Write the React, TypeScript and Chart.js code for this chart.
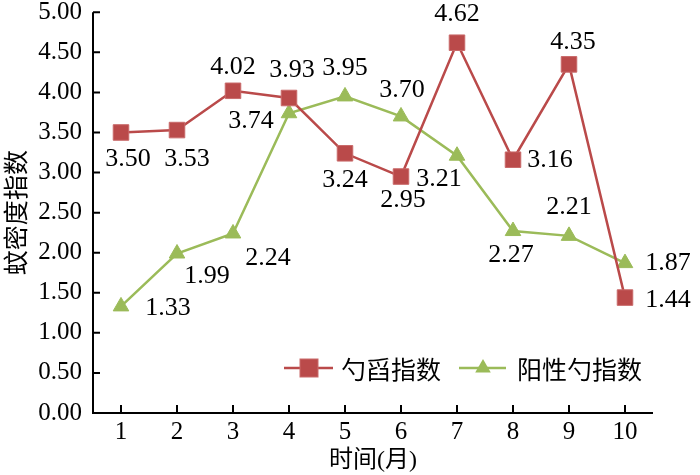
import React, { useEffect, useRef } from "react";
import { Chart, registerables } from "chart.js";

Chart.register(...registerables);

// ---- data ----
const months = ["1", "2", "3", "4", "5", "6", "7", "8", "9", "10"];
const dipIndex = [3.5, 3.53, 4.02, 3.93, 3.24, 2.95, 4.62, 3.16, 4.35, 1.44];
const positiveDipperIndex = [1.33, 1.99, 2.24, 3.74, 3.95, 3.7, 3.21, 2.27, 2.21, 1.87];
const seriesNames = ["勺舀指数", "阳性勺指数"];
const yAxisTitle = "蚊密度指数";
const xAxisTitle = "时间(月)";

// ---- label placement (style only: pixel offsets from each point) ----
const dipLabelOffsets = [[7, 27], [10, 29], [0, -24], [3, -28], [0, 27], [2, 24], [0, -29], [37, 0], [4, -22], [43, 3]];
const posLabelOffsets = [[47, 2], [30, 23], [35, 25], [-38, 8], [0, -28], [1, -26], [-18, 23], [-2, 24], [0, -29], [43, 0]];

const RED = "#BA4A4A";
const RED_EDGE = "#C96A6A";
const GREEN = "#9BBB59";
const SERIF = "'Liberation Serif', 'Times New Roman', serif";
const CJK = "'Noto Sans CJK SC', sans-serif";

const overlayPlugin = {
  id: "overlay",
  afterDraw(chart: any) {
    const ctx = chart.ctx;
    const area = chart.chartArea;
    const xs = chart.scales.x;
    const ys = chart.scales.y;
    ctx.save();
    // axes
    ctx.strokeStyle = "#000";
    ctx.lineWidth = 2;
    ctx.beginPath();
    ctx.moveTo(area.left, area.top);
    ctx.lineTo(area.left, area.bottom);
    ctx.lineTo(area.right, area.bottom);
    ctx.stroke();
    // inward ticks
    ctx.lineWidth = 2;
    ctx.beginPath();
    ys.ticks.forEach((t: any) => {
      const py = ys.getPixelForValue(t.value);
      ctx.moveTo(area.left, py);
      ctx.lineTo(area.left + 7, py);
    });
    months.forEach((_, i) => {
      const px = xs.getPixelForValue(i);
      ctx.moveTo(px, area.bottom);
      ctx.lineTo(px, area.bottom - 8);
    });
    ctx.stroke();

    // data labels
    ctx.fillStyle = "#000";
    ctx.font = "26px " + SERIF;
    ctx.textAlign = "center";
    ctx.textBaseline = "middle";
    const sets = [
      { values: dipIndex, offs: dipLabelOffsets },
      { values: positiveDipperIndex, offs: posLabelOffsets },
    ];
    sets.forEach((s) => {
      s.values.forEach((v, i) => {
        const px = xs.getPixelForValue(i);
        const py = ys.getPixelForValue(v);
        ctx.fillText(v.toFixed(2), px + s.offs[i][0], py + s.offs[i][1]);
      });
    });

    // legend
    const ly = area.bottom - 45;
    const l1 = area.left + 191;
    ctx.lineWidth = 2.5;
    ctx.strokeStyle = RED;
    ctx.beginPath();
    ctx.moveTo(l1, ly);
    ctx.lineTo(l1 + 49, ly);
    ctx.stroke();
    ctx.fillStyle = RED;
    ctx.fillRect(l1 + 25 - 9, ly - 9, 18, 18);
    ctx.strokeStyle = RED_EDGE;
    ctx.lineWidth = 1;
    ctx.strokeRect(l1 + 25 - 9, ly - 9, 18, 18);
    ctx.fillStyle = "#000";
    ctx.font = "25px " + CJK;
    ctx.textAlign = "left";
    ctx.fillText(seriesNames[0], l1 + 57, ly + 1);

    const l2 = area.left + 366;
    ctx.lineWidth = 2.5;
    ctx.strokeStyle = GREEN;
    ctx.beginPath();
    ctx.moveTo(l2, ly);
    ctx.lineTo(l2 + 47, ly);
    ctx.stroke();
    ctx.fillStyle = GREEN;
    const r = 9;
    const tcx = l2 + 24;
    ctx.beginPath();
    ctx.moveTo(tcx, ly - r);
    ctx.lineTo(tcx + r * 0.866, ly + r * 0.5);
    ctx.lineTo(tcx - r * 0.866, ly + r * 0.5);
    ctx.closePath();
    ctx.fill();
    ctx.fillStyle = "#000";
    ctx.fillText(seriesNames[1], l2 + 58, ly + 1);
    ctx.restore();
  },
};

export default function App() {
  const ref = useRef<HTMLCanvasElement | null>(null);
  useEffect(() => {
    if (!ref.current) return;
    const chart = new Chart(ref.current, {
      type: "line",
      data: {
        labels: months,
        datasets: [
          {
            label: seriesNames[0],
            data: dipIndex,
            borderColor: RED,
            borderWidth: 2.5,
            pointStyle: "rect",
            pointRadius: 11,
            pointBackgroundColor: RED,
            pointBorderColor: RED_EDGE,
            pointBorderWidth: 1,
            tension: 0,
          },
          {
            label: seriesNames[1],
            data: positiveDipperIndex,
            borderColor: GREEN,
            borderWidth: 2.5,
            pointStyle: "triangle",
            pointRadius: 9,
            pointBackgroundColor: GREEN,
            pointBorderColor: GREEN,
            pointBorderWidth: 1,
            tension: 0,
          },
        ],
      },
      options: {
        responsive: false,
        animation: false,
        layout: { padding: { top: 10, right: 47, bottom: 0, left: 0 } },
        plugins: { legend: { display: false }, tooltip: { enabled: false } },
        scales: {
          x: {
            offset: true,
            grid: { display: false, drawTicks: false },
            border: { display: false },
            ticks: { color: "#000", font: { family: SERIF, size: 25 }, padding: 4, maxRotation: 0 },
            title: {
              display: true,
              text: xAxisTitle,
              color: "#000",
              font: { family: SERIF + ", " + CJK, size: 24 },
              padding: { top: 0, bottom: 0 },
            },
            afterFit: (s: any) => {
              s.height = 62;
            },
          },
          y: {
            min: 0,
            max: 5,
            grid: { display: false, drawTicks: false },
            border: { display: false },
            ticks: {
              stepSize: 0.5,
              color: "#000",
              font: { family: SERIF, size: 25, lineHeight: 0.1 },
              padding: 11,
              callback: (v: any) => Number(v).toFixed(2),
            },
            title: {
              display: true,
              text: yAxisTitle,
              color: "#000",
              font: { family: CJK, size: 25 },
              padding: { top: 0, bottom: 0 },
            },
            afterFit: (s: any) => {
              s.width = 93;
            },
          },
        },
      },
      plugins: [overlayPlugin],
    });
    return () => chart.destroy();
  }, []);
  return (
    <div style={{ position: "absolute", left: 0, top: 0, width: 700, height: 475, background: "#fff" }}>
      <canvas ref={ref} width={700} height={475} style={{ display: "block" }} />
    </div>
  );
}
